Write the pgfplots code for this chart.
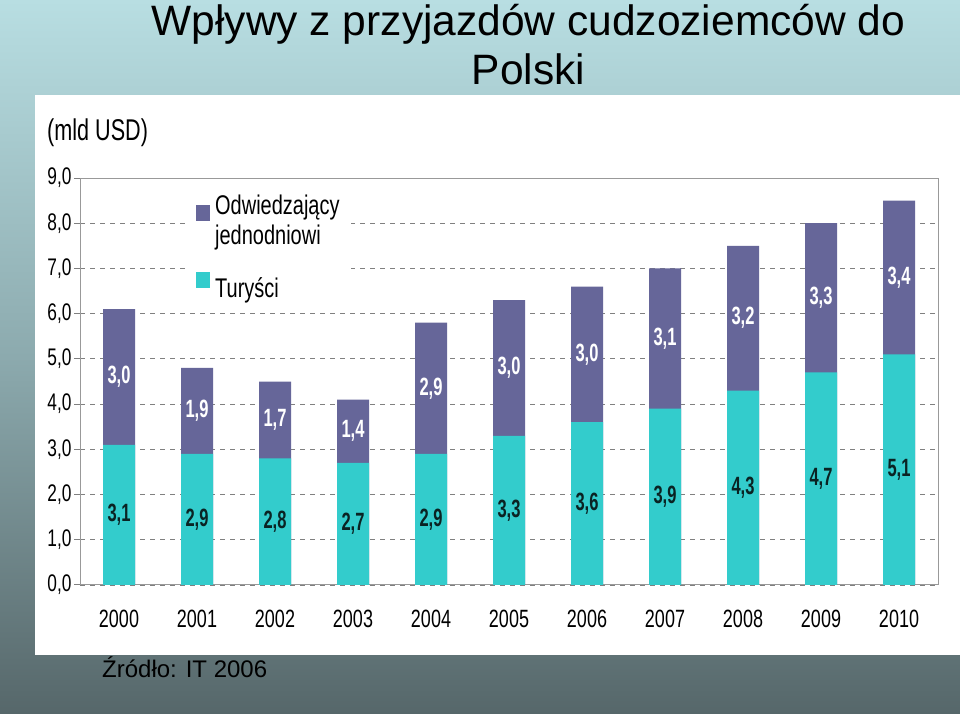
\documentclass[border=0pt]{standalone}
\usepackage{fontspec}
\setmainfont{Liberation Sans}
\newfontfamily\narrowfont[FakeStretch=0.72]{Liberation Sans}
\newfontfamily\legfont[FakeStretch=0.74]{Liberation Sans}
\newfontfamily\labelfont[FakeStretch=0.66]{Liberation Sans}
\usepackage{pgfplots}
\usepackage{pgfplotstable}
\pgfplotsset{compat=1.18}
\definecolor{purp}{RGB}{102,102,153}
\definecolor{tealb}{RGB}{51,204,204}
\definecolor{bgtop}{RGB}{184,222,226}
\definecolor{bgmid}{RGB}{140,170,174}
\definecolor{bgbot}{RGB}{86,103,106}
\definecolor{gridc}{RGB}{128,128,128}
\definecolor{labdark}{RGB}{10,35,35}

\pgfplotstableread{
x year t v
0 2000 3.1 3.0
1 2001 2.9 1.9
2 2002 2.8 1.7
3 2003 2.7 1.4
4 2004 2.9 2.9
5 2005 3.3 3.0
6 2006 3.6 3.0
7 2007 3.9 3.1
8 2008 4.3 3.2
9 2009 4.7 3.3
10 2010 5.1 3.4
}\data

\begin{document}
\begin{tikzpicture}[x=1pt,y=1pt]
\useasboundingbox (0,0) rectangle (960,714);
\shade[top color=bgtop, bottom color=bgbot, middle color=bgmid] (0,0) rectangle (960,714);
\fill[white] (35,59) rectangle (960,619);
\node[anchor=base, inner sep=0, font=\fontsize{42.5}{49}\selectfont] at (528.5,678) {Wpływy z przyjazdów cudzoziemców do};
\node[anchor=base, inner sep=0, font=\fontsize{42.5}{49}\selectfont] at (528.5,629) {Polski};
\node[anchor=base west, inner sep=0, font=\narrowfont\fontsize{30}{34}\selectfont] at (47,573) {(mld USD)};
\node[anchor=base west, inner sep=0, font=\fontsize{24}{28}\selectfont] at (102,36) {Źródło: IT 2006};

\begin{axis}[
  at={(80pt,129pt)}, anchor=south west,
  scale only axis, width=858pt, height=407pt,
  xmin=-0.5, xmax=10.5, ymin=0, ymax=9,
  xtick={0,1,2,3,4,5,6,7,8,9,10},
  xticklabels={2000,2001,2002,2003,2004,2005,2006,2007,2008,2009,2010},
  ytick={0,1,2,3,4,5,6,7,8,9},
  axis line style={draw=gridc!80, line width=1pt},
  tick align=outside, ytick pos=left,
  major tick length=6pt,
  ytick style={draw=gridc, line width=1pt},
  xtick style={draw=none},
  ymajorgrids,
  grid style={draw=gridc, line width=0.9pt, dash pattern=on 5pt off 5pt},
  yticklabel style={font=\narrowfont\fontsize{24}{28}\selectfont, text=black, xshift=1pt},
  xticklabel style={font=\narrowfont\fontsize{25}{28}\selectfont, text=black, yshift=-16pt},
  legend style={at={(0.1247,0.988)}, anchor=north west, fill=white, draw=none,
    inner xsep=9pt, inner ysep=10pt, row sep=24pt,
    font=\legfont\fontsize{27}{30}\selectfont, cells={align=left}},
  legend cell align=left,
  legend image code/.code={\fill[#1] (0pt,0pt) rectangle (14pt,16pt); \path (17pt,0pt);},
  /pgf/number format/use comma,
  /pgf/number format/fixed,
  /pgf/number format/fixed zerofill,
  /pgf/number format/precision=1,
  /pgf/number format/assume math mode=true,
]
\addplot[ybar, bar width=32pt, bar shift=0pt, fill=purp, draw=none]
  table[x=x, y expr=\thisrow{t}+\thisrow{v}] {\data};
\addlegendentry{Odwiedzający\\jednodniowi}
\addplot[ybar, bar width=32pt, bar shift=0pt, fill=tealb, draw=none]
  table[x=x, y=t] {\data};
\addlegendentry{Turyści}
\addplot[draw=none, mark=none, forget plot, nodes near coords, point meta=explicit,
  every node near coord/.append style={anchor=center, text=labdark,
    font=\labelfont\bfseries\fontsize{25}{25}\selectfont}]
  table[x=x, y expr=\thisrow{t}/2, meta=t] {\data};
\addplot[draw=none, mark=none, forget plot, nodes near coords, point meta=explicit,
  every node near coord/.append style={anchor=center, text=white,
    font=\labelfont\bfseries\fontsize{25}{25}\selectfont}]
  table[x=x, y expr=\thisrow{t}+\thisrow{v}/2, meta=v] {\data};
\end{axis}
\end{tikzpicture}
\end{document}
